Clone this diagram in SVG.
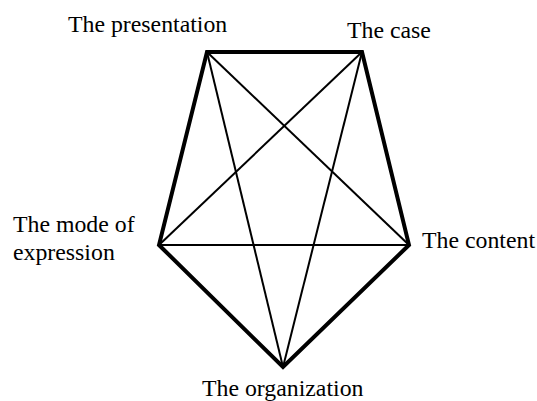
<svg xmlns="http://www.w3.org/2000/svg" width="537" height="401" viewBox="0 0 537 401">
<style>
text{font-family:"Liberation Serif","Times New Roman",serif;font-size:23.8px;fill:#000}
.outer{stroke:#000;stroke-width:4;fill:none;stroke-linejoin:miter}
.inner{stroke:#000;stroke-width:2;fill:none}
</style>
<rect width="537" height="401" fill="#fff"/>
<g id="connectors">
<polygon class="outer" points="207,52 362,52 409,245 283,367 159,245"/>
<line class="inner" x1="207" y1="52" x2="409" y2="245"/>
<line class="inner" x1="207" y1="52" x2="283" y2="367"/>
<line class="inner" x1="362" y1="52" x2="159" y2="245"/>
<line class="inner" x1="362" y1="52" x2="283" y2="367"/>
<line class="inner" x1="159" y1="245" x2="409" y2="245"/>
</g>
<g id="presentation"><text x="68" y="32">The presentation</text></g>
<g id="case"><text x="347" y="38">The case</text></g>
<g id="mode"><text x="13" y="232">The mode of</text><text x="13" y="260">expression</text></g>
<g id="content"><text x="422" y="248">The content</text></g>
<g id="organization"><text x="202" y="396">The organization</text></g>
</svg>
